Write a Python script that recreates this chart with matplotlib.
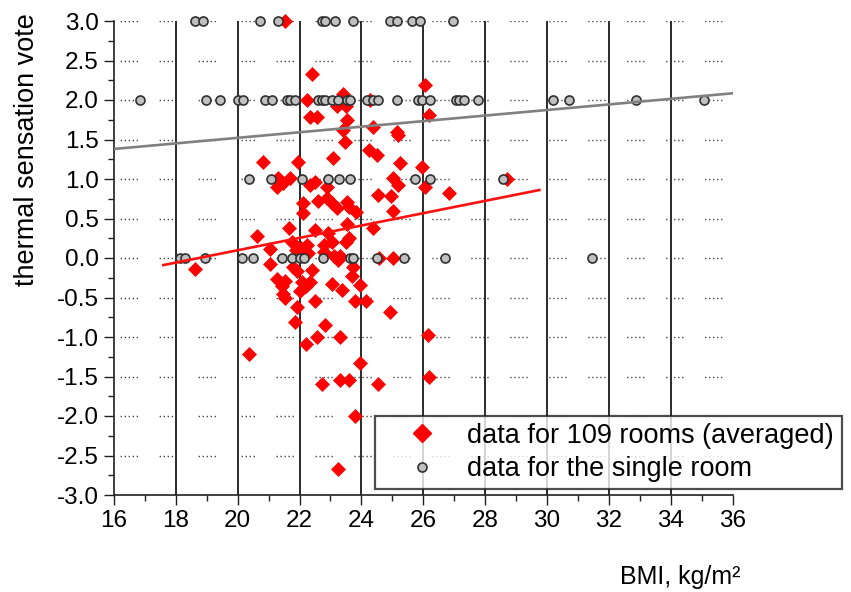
import numpy as np
import matplotlib
matplotlib.use("Agg")
import matplotlib.pyplot as plt
from matplotlib.lines import Line2D

plt.rcParams['font.family'] = ['Liberation Sans', 'DejaVu Sans']

# ---- data: averaged votes for 109 rooms (BMI, thermal sensation vote) ----
rooms_bmi = [
    21.53, 22.39, 26.05, 22.23, 23.42, 24.28, 23.22, 23.50, 23.52, 23.42,
    23.47, 22.34, 22.58, 24.38, 25.14, 25.19, 26.20, 24.25, 24.49, 20.83,
    21.94, 23.07, 25.25, 25.97, 21.31, 21.48, 21.69, 21.26, 22.34, 22.50,
    22.88, 25.03, 25.19, 26.07, 28.70, 26.84, 22.12, 22.12, 22.90, 23.04,
    23.20, 23.55, 23.60, 23.84, 24.55, 24.96, 25.03, 21.66, 22.49, 22.93,
    22.78, 23.04, 23.52, 23.60, 23.50, 24.38, 20.63, 21.05, 21.75, 21.88,
    22.04, 22.23, 22.28, 22.80, 23.12, 23.31, 23.25, 24.57, 25.03, 18.62,
    21.05, 21.78, 21.91, 22.39, 21.28, 21.53, 21.42, 22.07, 22.20, 22.34,
    22.02, 23.72, 23.69, 23.04, 23.36, 23.95, 21.47, 21.53, 22.50, 23.79,
    24.15, 24.93, 21.91, 21.87, 22.82, 22.55, 23.30, 22.22, 26.16, 20.37,
    23.95, 22.72, 23.31, 23.60, 24.53, 26.18, 23.79, 23.25, 22.60,
]
rooms_vote = [
    3.00, 2.33, 2.19, 2.00, 2.07, 2.00, 1.92, 1.92, 1.75, 1.62,
    1.47, 1.78, 1.79, 1.66, 1.60, 1.56, 1.81, 1.37, 1.30, 1.22,
    1.22, 1.26, 1.20, 1.15, 1.01, 0.95, 1.01, 0.90, 0.92, 0.96,
    0.90, 1.01, 0.92, 0.90, 1.00, 0.82, 0.70, 0.57, 0.76, 0.69,
    0.63, 0.71, 0.65, 0.58, 0.80, 0.78, 0.59, 0.38, 0.35, 0.32,
    0.17, 0.20, 0.43, 0.25, 0.20, 0.38, 0.28, 0.11, 0.20, 0.10,
    0.13, 0.17, 0.06, 0.08, 0.03, 0.03, -0.03, 0.00, 0.00, -0.14,
    -0.07, -0.12, -0.17, -0.15, -0.26, -0.29, -0.35, -0.31, -0.36, -0.30,
    -0.42, -0.12, -0.23, -0.33, -0.40, -0.34, -0.46, -0.51, -0.55, -0.54,
    -0.54, -0.68, -0.62, -0.81, -0.85, -1.00, -1.00, -1.09, -0.98, -1.21,
    -1.33, -1.60, -1.54, -1.54, -1.60, -1.50, -2.00, -2.67, 0.72,
]

# ---- data: individual votes in the single room ----
single_bmi = [
    # vote 3
    18.62, 18.89, 20.72, 21.31, 22.72, 22.82, 23.15, 23.72, 24.93, 25.14,
    25.63, 25.89, 26.97,
    # vote 2
    16.85, 18.98, 19.43, 20.01, 20.17, 20.89, 21.11, 21.60, 21.69, 21.85,
    22.60, 22.73, 22.82, 23.05, 23.24, 23.53, 23.63, 24.18, 24.37, 24.54,
    25.15, 25.83, 25.96, 26.22, 27.06, 27.16, 27.32, 27.78, 30.20, 30.72,
    32.88, 35.08,
    # vote 1
    20.37, 21.08, 22.08, 22.92, 23.28, 23.63, 25.73, 26.22, 28.58,
    # vote 0
    18.14, 18.30, 18.95, 20.14, 20.50, 21.43, 21.75, 22.02, 22.14, 22.76,
    23.63, 23.72, 24.50, 25.37, 26.70, 31.45,
]
single_vote = [3.0] * 13 + [2.0] * 32 + [1.0] * 9 + [0.0] * 16

# ---- linear fits (slope, intercept) and BMI ranges they cover ----
rooms_fit = (0.0782, -1.466)
rooms_fit_range = (17.6, 29.75)
single_fit = (0.03525, 0.816)
single_fit_range = (16.0, 36.0)

x_ticks = list(range(16, 37, 2))
y_ticks = [-3.0, -2.5, -2.0, -1.5, -1.0, -0.5, 0.0, 0.5, 1.0, 1.5, 2.0, 2.5, 3.0]

legend_labels = ["data for 109 rooms (averaged)", "data for the single room"]

# ---- figure ----
W, H = 851, 592
fig = plt.figure(figsize=(W / 100, H / 100), dpi=100)
ax = fig.add_axes([113.8 / W, 1 - 495 / H, (732.8 - 113.8) / W, (495 - 21) / H])
ax.set_xlim(16, 36)
ax.set_ylim(-3, 3)

# dotted horizontal guides in groups of five dots
px = 72 / 100.0
lw_dot = 1.0
pattern_px = [1.3, 2.7] * 4 + [1.3, 21.66]
pattern = [v * px / lw_dot for v in pattern_px]
offset = 32.76 * px / lw_dot
for yv in y_ticks[1:]:
    ax.axhline(yv, color='#3c3c3c', lw=lw_dot, linestyle=(offset, pattern), zorder=1)

# solid vertical guides at inner major ticks
for xv in x_ticks[1:-1]:
    ax.axvline(xv, color='#2a2a2a', lw=1.4, zorder=1)

ax.plot(rooms_bmi, rooms_vote, linestyle='none', marker='D', markersize=7.4,
        markerfacecolor='#ff0000', markeredgecolor='#ff0000', markeredgewidth=0.5,
        zorder=3, clip_on=False)
ax.plot(single_bmi, single_vote, linestyle='none', marker='o', markersize=6.5,
        markerfacecolor='#c0c0c0', markeredgecolor='#303030', markeredgewidth=1.2,
        zorder=4, clip_on=False)

xr = np.array(rooms_fit_range)
ax.plot(xr, rooms_fit[0] * xr + rooms_fit[1], color='#ff1010', lw=1.9, zorder=5)
xs = np.array(single_fit_range)
ax.plot(xs, single_fit[0] * xs + single_fit[1], color='#808080', lw=1.9, zorder=5)

# axes styling
for side in ('top', 'right'):
    ax.spines[side].set_visible(False)
for side in ('left', 'bottom'):
    ax.spines[side].set_linewidth(1.2)
    ax.spines[side].set_color('#202020')
ax.set_xticks(x_ticks)
ax.set_xticks(np.arange(17, 36, 2), minor=True)
ax.set_yticks(y_ticks)
ax.set_yticks(np.arange(-2.75, 3.0, 0.5), minor=True)
ax.set_xticklabels([str(v) for v in x_ticks])
ax.set_yticklabels([f"{v:.1f}" for v in y_ticks])
ax.tick_params(which='major', direction='out', length=7, width=1.0, color='#202020',
               labelsize=17.5, pad=4)
ax.tick_params(which='minor', direction='out', length=4, width=1.0, color='#202020')
ax.tick_params(axis='x', which='major', pad=4)

fig.text(27 / W, 1 - 150 / H, "thermal sensation vote", rotation=90,
         ha='center', va='center', fontsize=19.5)
fig.text(741 / W, 1 - 577 / H, "BMI, kg/m\u00b2", ha='right', va='center', fontsize=18)

handles = [
    Line2D([], [], linestyle='none', marker='D', markersize=9.5,
           markerfacecolor='#ff0000', markeredgecolor='#ff0000'),
    Line2D([], [], linestyle='none', marker='o', markersize=6.5,
           markerfacecolor='#c0c0c0', markeredgecolor='#303030', markeredgewidth=1.2),
]
leg = fig.legend(handles, legend_labels, loc='lower left',
                 bbox_to_anchor=(375 / W, 1 - 489 / H, (842 - 375) / W, 80 / H),
                 mode='expand', borderaxespad=0, fancybox=False, fontsize=19.5,
                 frameon=True, handlelength=3.0, handletextpad=0.15,
                 borderpad=0.25, labelspacing=0.28)
leg.get_frame().set_edgecolor('#202020')
leg.get_frame().set_linewidth(1.6)
leg.set_zorder(10)

fig.savefig("out.png", dpi=100)
